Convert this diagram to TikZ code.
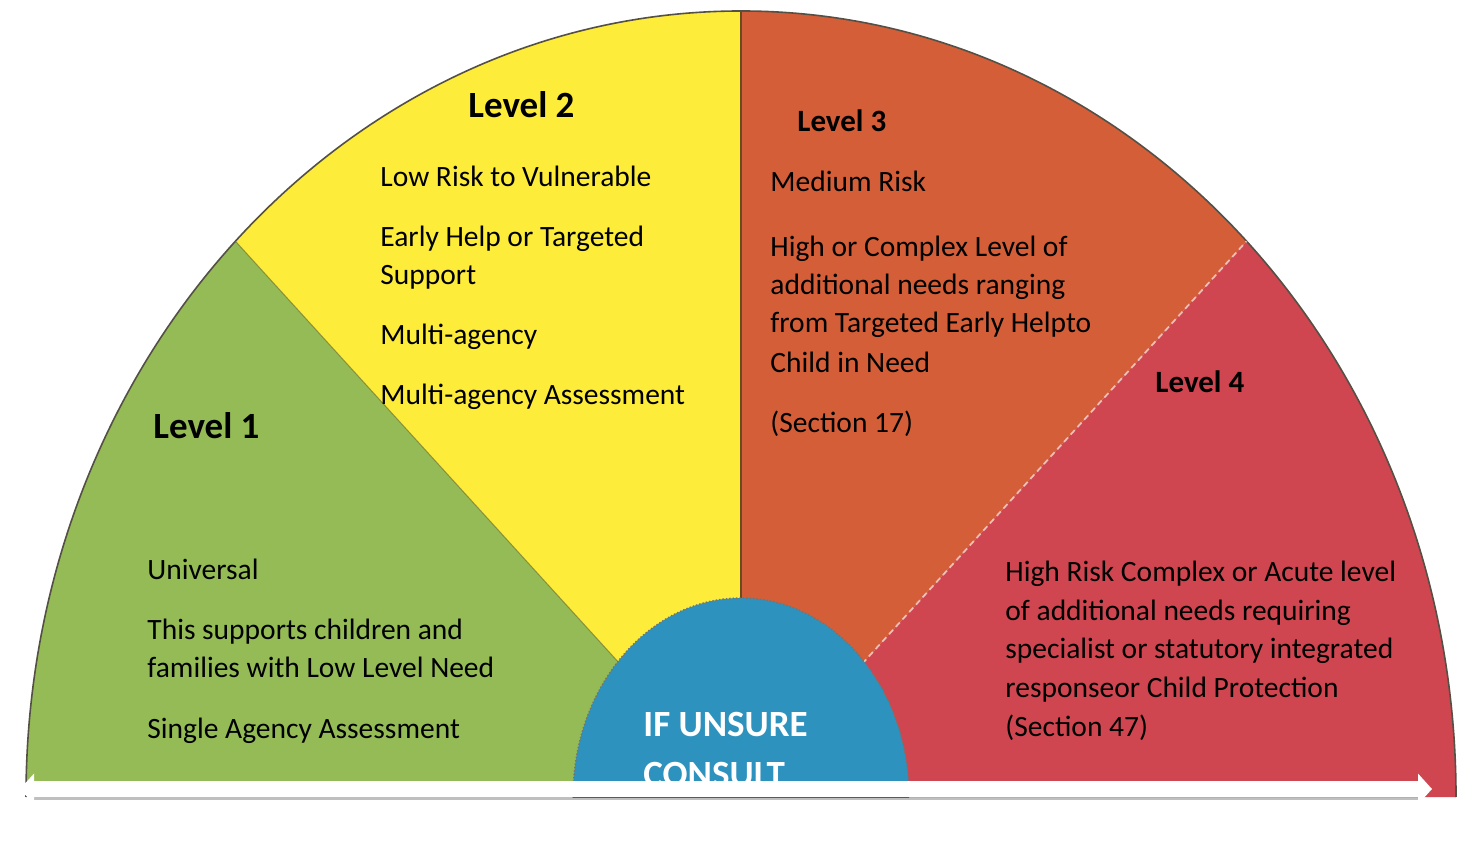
\documentclass[tikz,border=0pt]{standalone}
\usepackage{fontspec}
\setmainfont{Carlito}
\usetikzlibrary{arrows.meta}
\definecolor{lgreen}{RGB}{148,187,85}
\definecolor{lyellow}{RGB}{253,236,58}
\definecolor{lorange}{RGB}{212,94,56}
\definecolor{lred}{RGB}{207,70,80}
\definecolor{lblue}{RGB}{46,146,190}
\definecolor{edgegray}{RGB}{85,80,70}
\definecolor{edgebrown}{RGB}{105,75,30}
\begin{document}
\begin{tikzpicture}[x=0.5pt,y=0.5pt,
  body/.style={anchor=base west, inner sep=0pt, text=black, font=\fontsize{14.75}{17}\selectfont},
  headbig/.style={anchor=base west, inner sep=0pt, text=black, font=\fontsize{18.5}{21}\selectfont\bfseries},
  headsmall/.style={anchor=base west, inner sep=0pt, text=black, font=\fontsize{15.5}{18}\selectfont\bfseries},
  consult/.style={anchor=base west, inner sep=0pt, text=white, font=\fontsize{18.5}{21}\selectfont\bfseries},
  fanedge/.style={draw=edgegray, line width=0.8pt},
  bararrow/.style={draw=white, line width=8pt, {Triangle[width=15pt,length=7pt]}-{Triangle[width=15pt,length=7pt]}}
]
\useasboundingbox (0,0) rectangle (1476,840);
\fill[white] (0,0) rectangle (1476,840);
\coordinate (C) at (741,43);
\coordinate (E0) at (1456,43);
\coordinate (E45) at (1246.6,598.8);
\coordinate (E90) at (741,829);
\coordinate (E135) at (235.4,598.8);
\coordinate (E180) at (26,43);
\begin{scope}
  \clip (0,43) rectangle (1476,840);
  \fill[lred] (C) -- (E0) arc[start angle=0,end angle=45,x radius=715,y radius=786] -- cycle;
  \fill[lorange] (C) -- (E45) arc[start angle=45,end angle=90,x radius=715,y radius=786] -- cycle;
  \fill[lyellow] (C) -- (E90) arc[start angle=90,end angle=135,x radius=715,y radius=786] -- cycle;
  \fill[lgreen] (C) -- (E135) arc[start angle=135,end angle=180,x radius=715,y radius=786] -- cycle;
  \draw[fanedge] (E0) arc[start angle=0,end angle=180,x radius=715,y radius=786];
  \draw[edgebrown, line width=1pt] (C) -- (E90);
  \draw[olive!70!black, line width=0.5pt, opacity=0.6] (C) -- (E135);
  \draw[white, opacity=0.6, line width=0.9pt, dash pattern=on 3pt off 2pt] (C) -- (E45);
  \filldraw[fill=lblue, draw=edgegray!80, line width=0.7pt, densely dotted] (C) ellipse[x radius=168, y radius=199];
  \node[consult] (unsure1) at (643,104) {IF UNSURE};
  \node[consult] (unsure2) at (643,54) {CONSULT};
\end{scope}
% Level 2
\node[headbig] (lv2) at (468,722) {Level 2};
\node[body] (t2a) at (380,653) {Low Risk to Vulnerable};
\node[body] (t2b) at (380,593) {Early Help or Targeted};
\node[body] (t2c) at (380,555) {Support};
\node[body] (t2d) at (380,495) {Multi-agency};
\node[body] (t2e) at (380,435) {Multi-agency Assessment};
% Level 3
\node[headsmall] (lv3) at (797,708) {Level 3};
\node[body] (t3a) at (770,648) {Medium Risk};
\node[body] (t3b) at (770,583) {High or Complex Level of};
\node[body] (t3c) at (770,545) {additional needs ranging};
\node[body] (t3d) at (770,507) {from Targeted Early Helpto};
\node[body] (t3e) at (770,467) {Child in Need};
\node[body] (t3f) at (770,407) {(Section 17)};
% Level 4
\node[headsmall] (lv4) at (1155,447) {Level 4};
\node[body] (t4a) at (1005,258) {High Risk Complex or Acute level};
\node[body] (t4b) at (1005,219) {of additional needs requiring};
\node[body] (t4c) at (1005,181) {specialist or statutory integrated};
\node[body] (t4d) at (1005,142) {responseor Child Protection};
\node[body] (t4e) at (1005,104) {(Section 47)};
% Level 1
\node[headbig] (lv1) at (153,401) {Level 1};
\node[body] (t1a) at (147,260) {Universal};
\node[body] (t1b) at (147,200) {This supports children and};
\node[body] (t1c) at (147,162) {families with Low Level Need};
\node[body] (t1d) at (147,101) {Single Agency Assessment};
% arrow
\fill[black, opacity=0.25] (30,40) rectangle (1420,43);
\coordinate (aL) at (20,51);
\coordinate (aR) at (1432,51);
\draw[bararrow] (aL) -- (aR);
\end{tikzpicture}
\end{document}
